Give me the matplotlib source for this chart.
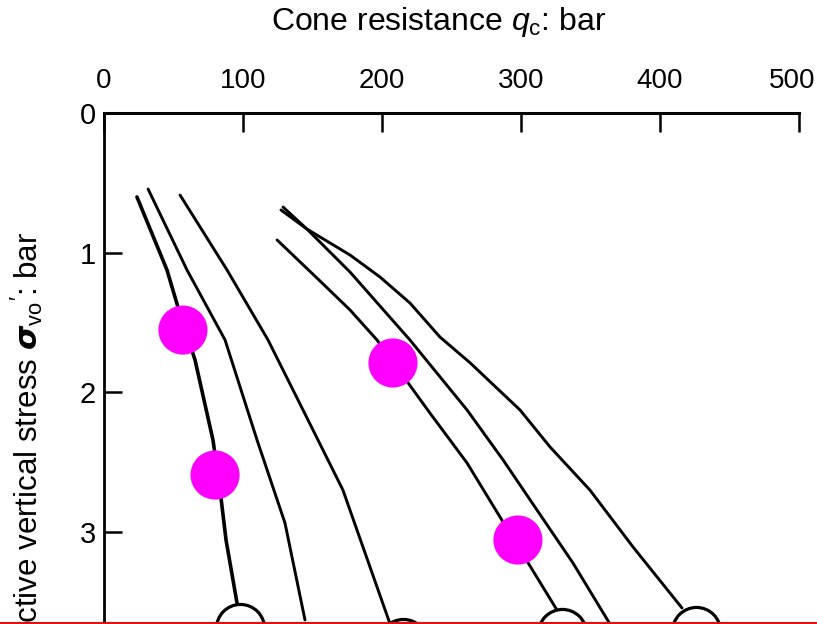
import numpy as np
import matplotlib.pyplot as plt
import matplotlib.transforms as mtransforms
from matplotlib.lines import Line2D

plt.rcParams['font.family'] = ['Liberation Sans', 'DejaVu Sans']
plt.rcParams['mathtext.fontset'] = 'custom'
plt.rcParams['mathtext.rm'] = 'Liberation Sans'
plt.rcParams['mathtext.it'] = 'Liberation Sans:italic'
plt.rcParams['mathtext.bf'] = 'Liberation Sans:bold'

# curves: cone resistance qc (bar) vs effective vertical stress (bar)
qc_1 = [23.7, 45.3, 53.2, 65.5, 78.4, 83.5, 87.8, 95.7]
sv_1 = [0.602, 1.125, 1.391, 1.771, 2.344, 2.703, 3.061, 3.513]

qc_2 = [31.7, 59.7, 87.1, 110.1, 130.2, 144.6]
sv_2 = [0.545, 1.125, 1.627, 2.344, 2.939, 3.634]

qc_3 = [54.7, 88.5, 118.0, 143.2, 171.9, 205.8]
sv_3 = [0.588, 1.125, 1.627, 2.129, 2.703, 3.663]

qc_4 = [124.5, 153.2, 177.0, 196.4, 234.5, 261.2, 284.9, 325.9]
sv_4 = [0.910, 1.183, 1.412, 1.627, 2.151, 2.509, 2.896, 3.563]

qc_5 = [127.3, 146.0, 177.0, 220.1, 261.2, 287.1, 311.5, 337.4, 364.0]
sv_5 = [0.695, 0.832, 1.140, 1.627, 2.129, 2.487, 2.846, 3.226, 3.663]

qc_6 = [128.8, 146.0, 177.0, 198.6, 220.1, 241.7, 263.3, 299.3, 320.9, 349.6, 380.6, 415.8]
sv_6 = [0.674, 0.832, 1.018, 1.176, 1.362, 1.606, 1.790, 2.129, 2.394, 2.703, 3.111, 3.548]

# circles closing the lower ends of curves
ring_qc = [97.8, 215.1, 329.5, 425.9]
ring_sv = [3.692, 3.80, 3.728, 3.713]

# highlighted points
pt_qc = [56.8, 79.9, 207.9, 297.8]
pt_sv = [1.556, 2.595, 1.792, 3.061]

fig = plt.figure(figsize=(8.17, 6.24), dpi=100)
ax = fig.add_axes([104/817, 0, 695/817, 1 - 113/624])

ax.plot(qc_1, sv_1, color='black', lw=2.6, solid_capstyle='round', solid_joinstyle='round')
for q, s in [(qc_2, sv_2), (qc_3, sv_3), (qc_4, sv_4), (qc_5, sv_5), (qc_6, sv_6)]:
    ax.plot(q, s, color='black', lw=2.1, solid_capstyle='round', solid_joinstyle='round')

ax.scatter(ring_qc, ring_sv, s=1200, facecolor='white', edgecolor='black',
           linewidths=2.3, zorder=3)

ax.scatter(pt_qc, pt_sv, s=1250, color='#ff00ff', edgecolors='none', zorder=5)

ax.set_xlim(0, 500)
ax.set_ylim(3.663, 0)
ax.xaxis.tick_top()
ax.set_xticks([0, 100, 200, 300, 400, 500])
ax.set_yticks([0, 1, 2, 3])
ax.tick_params(axis='x', direction='in', length=14, width=1.8, pad=14, labelsize=20)
ax.tick_params(axis='y', direction='in', length=13, width=1.8, pad=6, labelsize=21)
ax.spines['bottom'].set_visible(False)
ax.spines['right'].set_visible(False)
ax.spines['top'].set_linewidth(2.2)
ax.spines['left'].set_linewidth(2.0)

# nudge the last top label so it stays inside the figure
last = ax.get_xticklabels()[-1]
last.set_transform(last.get_transform() +
                   mtransforms.ScaledTranslation(-5/72, 0, fig.dpi_scale_trans))

fig.text(439/817, 1 - 22/624, r'Cone resistance $q_\mathrm{c}$: bar',
         ha='center', va='center', fontsize=23)
fig.text(27/817, 1 - 232/624, r"Effective vertical stress $\boldsymbol{\sigma}_\mathrm{vo}$$'$: bar",
         rotation=90, ha='center', va='top', fontsize=22.5)

fig.add_artist(Line2D([0, 1], [0.002, 0.002], color='#dd1111', lw=1.5))

plt.savefig('out.png', dpi=100)
